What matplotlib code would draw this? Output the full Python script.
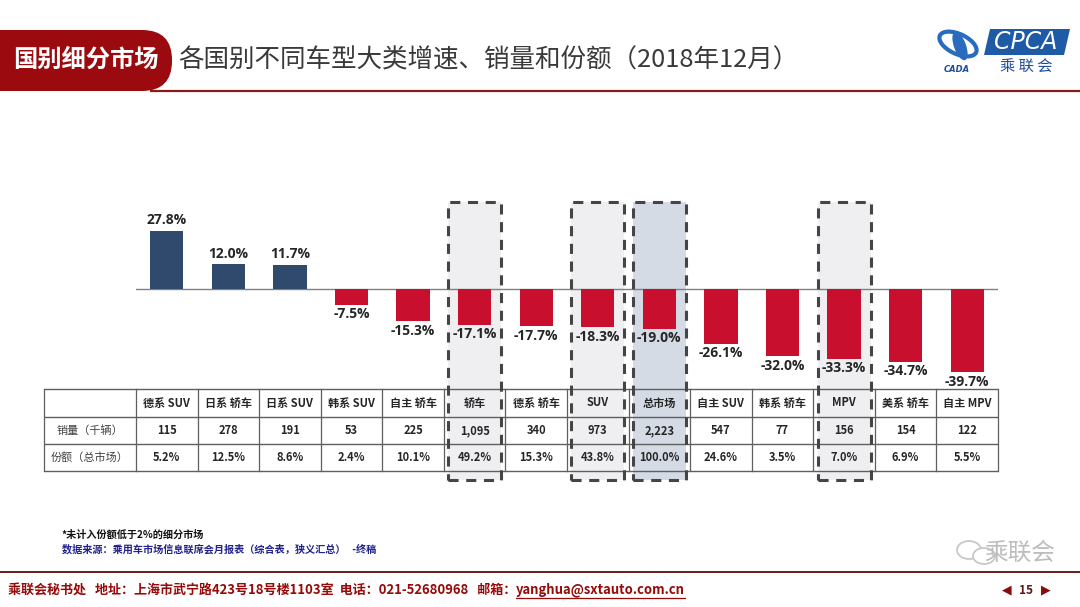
import matplotlib
matplotlib.use("Agg")
import matplotlib.pyplot as plt
from matplotlib.patches import Rectangle, FancyBboxPatch, Ellipse, Polygon

plt.rcParams['font.family'] = ['Noto Sans CJK SC', 'DejaVu Sans']

# ---------------- data ----------------
categories = ["德系 SUV", "日系 轿车", "日系 SUV", "韩系 SUV", "自主 轿车", "轿车", "德系 轿车",
              "SUV", "总市场", "自主 SUV", "韩系 轿车", "MPV", "美系 轿车", "自主 MPV"]
growth = [27.8, 12.0, 11.7, -7.5, -15.3, -17.1, -17.7, -18.3, -19.0, -26.1, -32.0, -33.3, -34.7, -39.7]
sales_k = [115, 278, 191, 53, 225, 1095, 340, 973, 2223, 547, 77, 156, 154, 122]
share_pct = [5.2, 12.5, 8.6, 2.4, 10.1, 49.2, 15.3, 43.8, 100.0, 24.6, 3.5, 7.0, 6.9, 5.5]
row_labels = ["销量（千辆）", "份额（总市场）"]
highlight = ["轿车", "SUV", "总市场", "MPV"]
total_cat = "总市场"

W, H = 1080, 607
fig = plt.figure(figsize=(W / 100, H / 100), dpi=100)
fig.patch.set_facecolor("white")

def rect(x0, y0, x1, y1):
    """pixel box (top-left origin) -> figure fraction [l, b, w, h]"""
    return [x0 / W, 1 - y1 / H, (x1 - x0) / W, (y1 - y0) / H]

# ---------- decoration axes (full figure, pixel units) ----------
deco = fig.add_axes([0, 0, 1, 1], zorder=0)
deco.set_xlim(0, W)
deco.set_ylim(H, 0)
deco.axis("off")

# header tab
deco.add_patch(FancyBboxPatch((-60, 30), 232, 61, boxstyle="round,pad=0,rounding_size=30",
                              fc="#9A0A0E", ec="none"))
deco.text(86, 60, "国别细分市场", color="white", fontsize=17.5, fontweight="bold",
          ha="center", va="center")
deco.plot([150, W], [91, 91], color="#8B1A1A", lw=1.6, solid_capstyle="butt")
deco.text(178, 61, "各国别不同车型大类增速、销量和份额（2018年12月）", color="#3a3a3a",
          fontsize=18.4, ha="left", va="center")

# logo
deco.add_patch(Polygon([[990, 29], [1070, 29], [1064, 55], [984, 55]], closed=True,
                       fc="#1F5AA6", ec="none"))
deco.text(1026, 42, "CPCA", color="white", fontsize=17, style="italic",
          ha="center", va="center", family=["DejaVu Sans"])
deco.text(1026, 67, "乘 联 会", color="#1F4E9A", fontsize=11, ha="center", va="center")
deco.add_patch(Ellipse((958, 44), 40, 20, angle=25, fc="none", ec="#2A6BC0", lw=3))
deco.add_patch(Ellipse((960, 46), 12, 30, angle=-20, fc="#2A6BC0", ec="none"))
deco.text(957, 69, "CADA", color="#1F4E9A", fontsize=6, style="italic", fontweight="bold",
          ha="center", va="center", family=["DejaVu Sans"])

# notes
deco.text(62, 535, "*未计入份额低于2%的细分市场", color="#111111", fontsize=7.3,
          fontweight="bold", ha="left", va="center")
deco.text(62, 549, "数据来源：乘用车市场信息联席会月报表（综合表，狭义汇总）   -终稿", color="#22228A",
          fontsize=7.3, fontweight="bold", ha="left", va="center")

# watermark
deco.add_patch(Ellipse((969, 550), 24, 18, fc="none", ec="#c8c8c8", lw=1.3))
deco.add_patch(Ellipse((984, 556), 22, 16, fc="white", ec="#c8c8c8", lw=1.3))
deco.text(1020, 553, "乘联会", color="#bdbdbd", fontsize=17, ha="center", va="center")

# footer
deco.plot([0, W], [572, 572], color="#6B1A1A", lw=1.4, solid_capstyle="butt")
foot = deco.text(8, 590, "乘联会秘书处   地址：上海市武宁路423号18号楼1103室  电话：021-52680968   邮箱：",
                 color="#960A0A", fontsize=9.4, fontweight="bold", ha="left", va="center")
fig.canvas.draw()
bb = foot.get_window_extent()
x_email = bb.x1
email = fig.text(x_email / W, 1 - 590 / H, "yanghua@sxtauto.com.cn", color="#960A0A",
                 fontsize=9.4, fontweight="bold", ha="left", va="center")
fig.canvas.draw()
eb = email.get_window_extent()
deco.plot([eb.x0, eb.x1], [598, 598], color="#960A0A", lw=0.9)
deco.text(1007, 590, "◀", color="#8B0A0A", fontsize=9, ha="center", va="center",
          family=["DejaVu Sans"])
deco.text(1026, 590, "15", color="#5a1a1a", fontsize=8.5, fontweight="bold", ha="center", va="center")
deco.text(1046, 590, "▶", color="#8B0A0A", fontsize=9, ha="center", va="center",
          family=["DejaVu Sans"])

n = len(categories)
xs = list(range(n))

# ---------- highlight box fills (behind) ----------
box_ax = fig.add_axes(rect(136, 202, 998, 480), zorder=1)
box_ax.set_xlim(-0.5, n - 0.5)
box_ax.set_ylim(0, 1)
box_ax.axis("off")
box_ax.patch.set_alpha(0)
for i, c in enumerate(categories):
    if c in highlight:
        fc = "#D5DBE5" if c == total_cat else "#EFEFF1"
        box_ax.add_patch(Rectangle((i - 0.43, 0), 0.86, 1, fc=fc, ec="none", clip_on=False))

# ---------- bar chart ----------
ax = fig.add_axes(rect(136, 195, 998, 385), zorder=2)
ax.patch.set_alpha(0)
ax.set_xlim(-0.5, n - 0.5)
ax.set_ylim(-(385 - 289) / 2.09, (289 - 195) / 2.09)
ax.axis("off")
colors = ["#2F4A6C" if v >= 0 else "#C8102E" for v in growth]
ax.bar(xs, growth, width=0.54, color=colors, zorder=3)
ax.axhline(0, color="#808080", lw=1.0, zorder=2)
for x, v in zip(xs, growth):
    off = 7.5 if v >= 0 else -7.0
    ax.annotate(f"{v:.1f}%", (x, v), xytext=(0, off), textcoords="offset points",
                ha="center", va="center", fontsize=10, fontweight="bold", color="#262626",
                family=["Open Sans", "DejaVu Sans"], zorder=4)

# ---------- table ----------
tab = fig.add_axes([0, 0, 1, 1], zorder=3)
tab.set_xlim(0, W)
tab.set_ylim(H, 0)
tab.axis("off")
tab.patch.set_alpha(0)
tx0, tx1 = 44, 998
c0 = 136
cw = (tx1 - c0) / n
rows_y = [389, 417, 444, 471]
lc = "#5f5f5f"
for y in rows_y:
    tab.plot([tx0, tx1], [y, y], color=lc, lw=1.0, solid_capstyle="butt")
for k in range(n + 1):
    xv = c0 + k * cw
    tab.plot([xv, xv], [rows_y[0], rows_y[-1]], color=lc, lw=0.9)
tab.plot([tx0, tx0], [rows_y[0], rows_y[-1]], color=lc, lw=0.9)

tcol = "#262626"
for i, c in enumerate(categories):
    cx = c0 + (i + 0.5) * cw
    tab.text(cx, (rows_y[0] + rows_y[1]) / 2, c, ha="center", va="center", fontsize=8,
             fontweight="bold", color=tcol)
    tab.text(cx, (rows_y[1] + rows_y[2]) / 2, f"{sales_k[i]:,}", ha="center", va="center",
             fontsize=8, fontweight="bold", color=tcol)
    tab.text(cx, (rows_y[2] + rows_y[3]) / 2, f"{share_pct[i]:.1f}%", ha="center", va="center",
             fontsize=8, fontweight="bold", color=tcol)
for r, lab in enumerate(row_labels):
    tab.text((tx0 + c0) / 2, (rows_y[r + 1] + rows_y[r + 2]) / 2, lab, ha="center", va="center",
             fontsize=8, color="#404040")

# ---------- dashed box outlines (on top) ----------
dash_ax = fig.add_axes(rect(136, 202, 998, 480), zorder=4)
dash_ax.set_xlim(-0.5, n - 0.5)
dash_ax.set_ylim(0, 1)
dash_ax.axis("off")
dash_ax.patch.set_alpha(0)
for i, c in enumerate(categories):
    if c in highlight:
        dash_ax.add_patch(Rectangle((i - 0.43, 0), 0.86, 1, fc="none", ec="#454545", lw=2.2,
                                    linestyle=(0, (3.3, 2.5)), clip_on=False))

fig.savefig("out.png", dpi=100, facecolor="white")
